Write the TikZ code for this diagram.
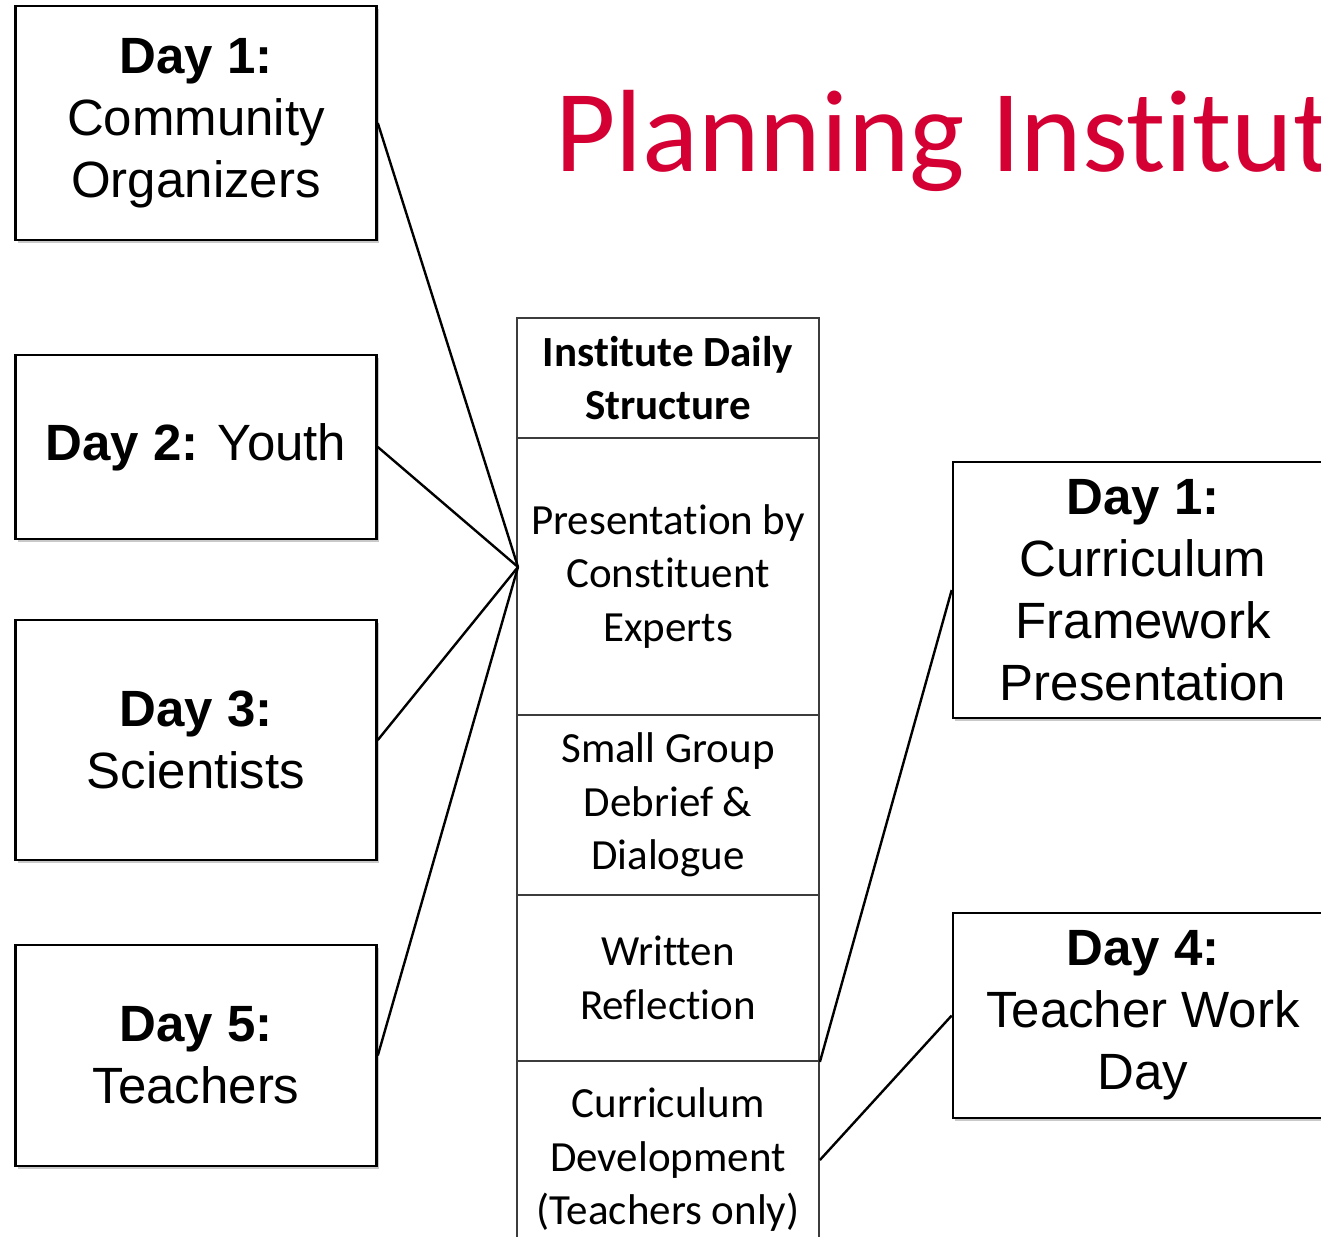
\documentclass[tikz,border=0pt]{standalone}
\usepackage{fontspec}
\setmainfont{Liberation Sans}
\newfontfamily\calfont[Ligatures={NoCommon,NoRare,NoDiscretionary}]{Carlito}
\usetikzlibrary{shadows}
\definecolor{titlered}{RGB}{212,0,52}
\definecolor{rulegray}{RGB}{60,60,60}
\begin{document}
\begin{tikzpicture}[x=1pt,y=-1pt,
  daybox/.style={draw=black, line width=2.6pt, fill=white, align=center, inner sep=0pt,
    font=\fontsize{51}{62}\selectfont,
    drop shadow={shadow xshift=2pt, shadow yshift=-3pt, opacity=0.35, fill=black!60}},
  cell/.style={draw=rulegray, line width=1.8pt, fill=white, inner sep=0pt, align=center,
    minimum width=302pt, font=\calfont\fontsize{43}{53.5}\selectfont},
  link/.style={draw=black, line width=2.4pt}]
\useasboundingbox (0,0) rectangle (1321,1236);
\fill[white] (0,0) rectangle (1321,1236);
\clip (0,0) rectangle (1321,1236);

% title
\node[anchor=base west, inner sep=0pt, text=titlered, font=\calfont\fontsize{117}{130}\selectfont]
  (title) at (555,171) {Planning Institut};

% visitor days on the left
\node[daybox, minimum width=361pt, minimum height=234pt] (d1) at (196,123)
  {\textbf{Day 1:}\\Community\\Organizers};
\node[daybox, minimum width=361pt, minimum height=184pt] (d2) at (196,447)
  {\textbf{Day 2:} Youth};
\node[daybox, minimum width=361pt, minimum height=240pt] (d3) at (196,740)
  {\textbf{Day 3:}\\Scientists};
\node[daybox, minimum width=361pt, minimum height=221pt] (d5) at (196,1055.5)
  {\textbf{Day 5:}\\Teachers};

% teacher days on the right
\node[daybox, minimum width=380pt, minimum height=256pt] (t1) at (1143,590)
  {\textbf{Day 1:}\\Curriculum\\Framework\\Presentation};
\node[daybox, minimum width=380pt, minimum height=205pt] (t4) at (1143,1015.5)
  {\textbf{Day 4:}\\Teacher Work\\Day};

% daily structure table
\node[cell, minimum height=120pt] (hdr) at (668,378)
  {\bfseries Institute Daily\\\bfseries Structure};
\node[cell, minimum height=277pt] (pres) at (668,576.5)
  {Presentation by\\Constituent\\Experts};
\node[cell, minimum height=180pt] (small) at (668,805)
  {Small Group\\Debrief \&\\Dialogue};
\node[cell, minimum height=166pt] (writ) at (668,978)
  {Written\\Reflection};
\node[cell, minimum height=198pt] (curr) at (668,1160)
  {Curriculum\\Development\\(Teachers only)};

% connectors
\coordinate (hub) at (518,567);
\draw[link] (d1.east) -- (hub);
\draw[link] (d2.east) -- (hub);
\draw[link] (d3.east) -- (hub);
\draw[link] (d5.east) -- (hub);
\draw[link] (writ.south east) -- (t1.west);
\draw[link] (curr.east) -- (t4.west);
\end{tikzpicture}
\end{document}
